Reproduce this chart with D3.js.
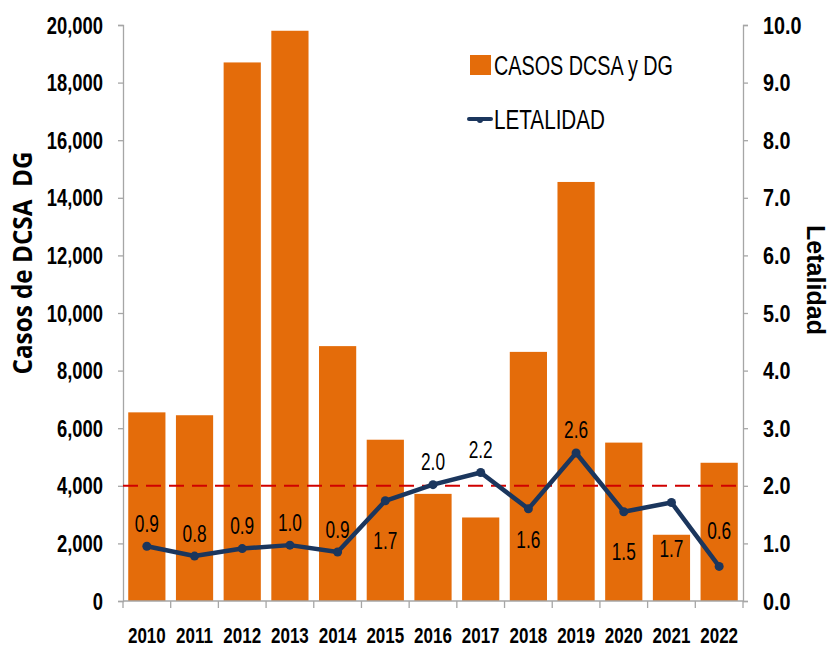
<!DOCTYPE html>
<html><head><meta charset="utf-8">
<script src="https://cdn.jsdelivr.net/npm/d3@7"></script>
<style>
html,body{margin:0;padding:0;background:#fff;}
svg{display:block;}
text{font-family:"Liberation Sans",Arial,sans-serif;}
</style></head>
<body>
<svg id="chart" width="830" height="647"></svg>
<script>
const years = ["2010","2011","2012","2013","2014","2015","2016","2017","2018","2019","2020","2021","2022"];
const casos = [6550,6450,18700,19800,8850,5600,3720,2900,8650,14550,5500,2300,4800];
const letalidad = [0.95,0.78,0.91,0.97,0.85,1.74,2.02,2.23,1.60,2.57,1.55,1.71,0.60];
const letalidadLabels = ["0.9","0.8","0.9","1.0","0.9","1.7","2.0","2.2","1.6","2.6","1.5","1.7","0.6"];
const labelSide = ["above","above","above","above","above","below","above","above","belowNear","above","below","belowFar","aboveFar"];
const leftTicks = [0,2000,4000,6000,8000,10000,12000,14000,16000,18000,20000];
const rightTicks = [0,1,2,3,4,5,6,7,8,9,10];
const umbral = 2.0;
const seriesNames = ["CASOS DCSA y DG","LETALIDAD"];
const axisTitles = ["Casos de DCSA  DG","Letalidad"];

const svg = d3.select("#chart");
const L = 123, R = 743, T = 25, B = 601;
const barColor = "#E46C0A", lineColor = "#1B365D", axisColor = "#A6A6A6";
const sideOffset = {above:-23, aboveFar:-36, below:40, belowNear:31, belowFar:46};

// horizontally condense text (to mimic a narrow font)
function condense(sel, f) {
  sel.each(function() {
    const w = this.getComputedTextLength();
    d3.select(this).attr("textLength", w * f).attr("lengthAdjust", "spacingAndGlyphs");
  });
}

const x = d3.scaleBand().domain(years).range([L, R]).paddingInner(0.22).paddingOuter(0.11);
const yL = d3.scaleLinear().domain([0, 20000]).range([B, T]);
const yR = d3.scaleLinear().domain([0, 10]).range([B, T]);

// bars
svg.append("g").selectAll("rect").data(years).join("rect")
  .attr("x", d => x(d)).attr("width", x.bandwidth())
  .attr("y", (d,i) => yL(casos[i])).attr("height", (d,i) => B - yL(casos[i]))
  .attr("fill", barColor);

// left axis
const axL = svg.append("g").attr("transform", `translate(${L},0)`)
  .call(d3.axisLeft(yL).tickValues(leftTicks).tickFormat(d3.format(",")).tickSize(5).tickPadding(15));
// right axis
const axR = svg.append("g").attr("transform", `translate(${R},0)`)
  .call(d3.axisRight(yR).tickValues(rightTicks).tickFormat(d3.format(".1f")).tickSize(5).tickPadding(15));
[axL, axR].forEach(a => {
  a.select(".domain").attr("stroke", axisColor).attr("stroke-width", 1.3);
  a.selectAll(".tick line").attr("stroke", axisColor).attr("stroke-width", 1.3);
  a.selectAll("text").style("font-family",'"Liberation Sans",Arial,sans-serif')
    .style("font-size","23px").style("font-weight","bold").attr("fill","#000")
    .attr("dy", null).attr("y", 8);
});
condense(axL.selectAll("text"), 0.8);
condense(axR.selectAll("text"), 0.86);

// bottom axis
const xb = d3.scaleLinear().domain([0, years.length]).range([L, R]);
const axB = svg.append("g").attr("transform", `translate(0,${B})`);
axB.append("line").attr("x1", L).attr("x2", R).attr("stroke", axisColor).attr("stroke-width", 1.3);
axB.selectAll("line.tk").data(d3.range(years.length + 1)).join("line").attr("class","tk")
  .attr("x1", d => xb(d)).attr("x2", d => xb(d)).attr("y1", 0).attr("y2", 7)
  .attr("stroke", axisColor).attr("stroke-width", 1.3);
const yrTxt = axB.selectAll("text").data(years).join("text")
  .attr("x", d => x(d) + x.bandwidth()/2).attr("y", 42)
  .attr("text-anchor","middle").style("font-size","21.5px").style("font-weight","bold").text(d => d);
condense(yrTxt, 0.79);

// threshold dashed line
svg.append("line").attr("x1", L).attr("x2", R).attr("y1", yR(umbral)).attr("y2", yR(umbral))
  .attr("stroke", "#D00000").attr("stroke-width", 2).attr("stroke-dasharray", "15,8");

// letalidad line
const cx = d => x(d) + x.bandwidth()/2;
const line = d3.line().x((d,i) => cx(years[i])).y(d => yR(d));
svg.append("path").datum(letalidad).attr("d", line).attr("fill","none")
  .attr("stroke", lineColor).attr("stroke-width", 4.5).attr("stroke-linejoin","round");
svg.append("g").selectAll("circle").data(letalidad).join("circle")
  .attr("cx", (d,i) => cx(years[i])).attr("cy", d => yR(d)).attr("r", 4.5).attr("fill", lineColor);

// data labels
const dl = svg.append("g").selectAll("text").data(letalidad).join("text")
  .attr("x", (d,i) => cx(years[i]))
  .attr("y", (d,i) => yR(d) + sideOffset[labelSide[i]] + 8.5)
  .attr("text-anchor","middle").style("font-size","24px").attr("fill","#000")
  .text((d,i) => letalidadLabels[i]);
condense(dl, 0.72);

// axis titles
svg.append("text").attr("transform", "translate(32,263) rotate(-90)")
  .attr("text-anchor","middle").style("font-family","'Open Sans', sans-serif")
  .style("font-size","26px").style("font-weight","bold").style("white-space","pre")
  .text(axisTitles[0])
  .attr("textLength", 223).attr("lengthAdjust","spacingAndGlyphs");
svg.append("text").attr("transform", "translate(807,280) rotate(90)")
  .attr("text-anchor","middle")
  .style("font-size","25px").style("font-weight","bold").text(axisTitles[1])
  .attr("textLength", 110).attr("lengthAdjust","spacingAndGlyphs");

// legend
const lg = svg.append("g");
lg.append("rect").attr("x", 470).attr("y", 55).attr("width", 21).attr("height", 20).attr("fill", barColor);
lg.append("text").attr("x", 494).attr("y", 75).style("font-size","27px").text(seriesNames[0])
  .attr("textLength", 179).attr("lengthAdjust","spacingAndGlyphs");
lg.append("line").attr("x1", 469).attr("x2", 491).attr("y1", 119).attr("y2", 119)
  .attr("stroke", lineColor).attr("stroke-width", 4).attr("stroke-linecap","round");
lg.append("circle").attr("cx", 480).attr("cy", 120).attr("r", 3).attr("fill", lineColor);
lg.append("text").attr("x", 494).attr("y", 129).style("font-size","27px").text(seriesNames[1])
  .attr("textLength", 111).attr("lengthAdjust","spacingAndGlyphs");
</script>
</body></html>
